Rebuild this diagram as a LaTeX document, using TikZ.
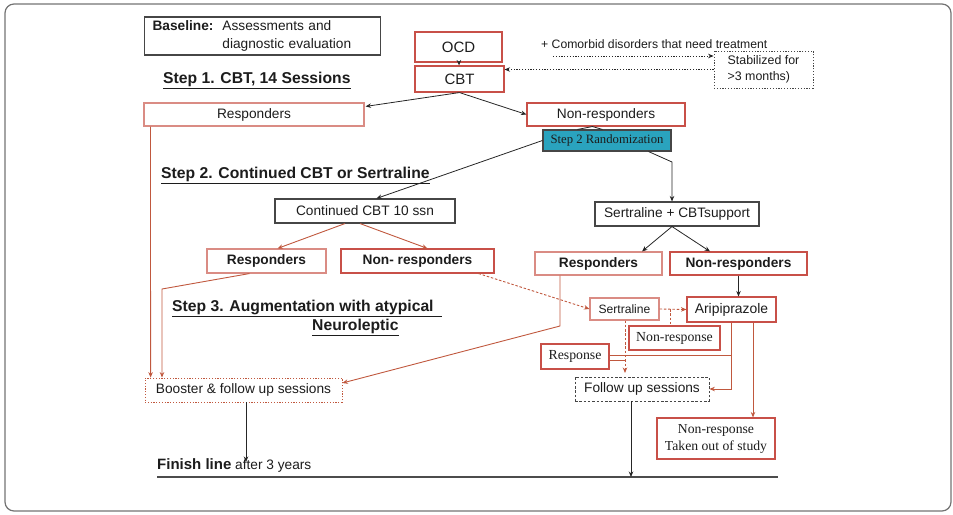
\documentclass[tikz,border=0pt]{standalone}
\usepackage{fontspec}
\setmainfont{Liberation Sans}
\newfontfamily\tms{Liberation Serif}
\usetikzlibrary{arrows.meta,calc}
\definecolor{rbox}{RGB}{200,80,72}
\definecolor{lrbox}{RGB}{218,140,132}
\definecolor{rarr}{RGB}{192,88,62}
\definecolor{gbox}{RGB}{70,70,70}
\definecolor{tealbox}{RGB}{42,163,190}
\definecolor{txt}{RGB}{28,28,28}
\begin{document}
\begin{tikzpicture}[x=1pt,y=-1pt,
  every node/.style={text=txt, font=\fontsize{13.7}{16}\selectfont},
  bx/.style 2 args={minimum width=#1, minimum height=#2, inner sep=0pt, line width=1.1pt},
  rb/.style={draw=rbox},
  lb/.style={draw=lrbox},
  gb/.style={draw=gbox},
  lbl/.style={anchor=west, inner sep=0pt, font=\fontsize{15.7}{18}\selectfont\bfseries},
  tip/.style={-{Stealth[length=5.5pt,width=4.5pt]}},
  blk/.style={tip, draw=black!85, line width=0.8pt},
  blkl/.style={draw=black!85, line width=0.8pt},
  rarrow/.style={tip, draw=rarr, line width=0.9pt},
  rline/.style={draw=rarr, line width=0.9pt},
  dsh/.style={dash pattern=on 2.5pt off 1.8pt},
  dott/.style={dash pattern=on 1.2pt off 1.6pt},
  thinb/.style={line width=0.8pt}
]
\useasboundingbox (0,0) rectangle (953,514);
\draw[line width=1.2pt, draw=black!55, rounded corners=9pt] (5,4) rectangle (951,511);

% ---------- nodes ----------
\node[anchor=west, gb, line width=1.1pt, inner xsep=8pt, inner ysep=0pt, text width=220pt, minimum height=38pt, align=left, font=\fontsize{13.7}{18}\selectfont] (base) at (144,36)
  {\textbf{Baseline:}\hspace{9pt}Assessments and\\\phantom{\textbf{Baseline:}}\hspace{9pt}diagnostic evaluation};
\node[bx={87pt}{30pt}, rb, font=\fontsize{15}{18}\selectfont] (ocd) at (458.5,47) {OCD};
\node[bx={89pt}{26pt}, rb, font=\fontsize{15}{18}\selectfont] (cbt) at (459.5,79) {CBT};
\node[anchor=west, inner sep=0pt, font=\fontsize{12.2}{14}\selectfont] (comorb) at (541,44) {+ Comorbid disorders that need treatment};
\node[bx={99pt}{37pt}, thinb, draw=gbox, dott, align=left, font=\fontsize{12.4}{15.5}\selectfont] (stab) at (763.5,69.5) {Stabilized for\\>3 months)};
\node[lbl] (step1) at (163,80) {\underline{Step 1. CBT, 14 Sessions}};

\node[bx={220pt}{23pt}, lb] (resp1) at (254,114.5) {Responders};
\node[bx={158pt}{23pt}, rb] (nonresp1) at (606,114.5) {Non-responders};
\node[bx={128pt}{21pt}, draw=gbox, fill=tealbox, font=\fontsize{12.7}{15}\selectfont\tms] (rand) at (607,140.5) {Step 2 Randomization};

\node[lbl] (step2) at (161,175) {\underline{Step 2. Continued CBT or Sertraline}};
\node[bx={180pt}{24pt}, gb] (ccbt) at (365,211) {Continued CBT 10 ssn};
\node[bx={164pt}{24pt}, gb] (sert) at (677,214) {Sertraline + CBTsupport};

\node[bx={119pt}{24pt}, lb, font=\fontsize{13.7}{16}\selectfont\bfseries] (resp2L) at (266.5,261) {Responders};
\node[bx={153pt}{24pt}, rb, font=\fontsize{13.7}{16}\selectfont\bfseries] (nonresp2L) at (417.5,261) {Non- responders};
\node[bx={127pt}{23pt}, lb, font=\fontsize{13.7}{16}\selectfont\bfseries] (resp2R) at (598.5,263.5) {Responders};
\node[bx={137pt}{23pt}, rb, font=\fontsize{13.7}{16}\selectfont\bfseries] (nonresp2R) at (738.5,263.5) {Non-responders};

\node[lbl] (step3a) at (172,308) {\underline{Step 3. Augmentation with atypical\ \ }};
\node[lbl] (step3b) at (312,327) {\underline{Neuroleptic}};

\node[bx={69pt}{22pt}, lb, font=\fontsize{12.1}{14}\selectfont] (sertS) at (624.5,309) {Sertraline};
\node[bx={89pt}{25pt}, rb, font=\fontsize{13.9}{16}\selectfont] (arip) at (731.5,309.5) {Aripiprazole};
\node[bx={91pt}{24pt}, rb, font=\fontsize{13.8}{16}\selectfont\tms] (nonresponse) at (674.5,338) {Non-response};
\node[bx={68pt}{25pt}, rb, font=\fontsize{13.8}{16}\selectfont\tms] (response) at (575,356.5) {Response};
\node[bx={134pt}{24pt}, thinb, draw=gbox, dsh] (follow) at (642,389) {Follow up sessions};
\node[bx={197pt}{24pt}, thinb, draw=rarr, dott] (booster) at (243.5,390) {Booster \& follow up sessions};
\node[bx={118pt}{41pt}, rb, align=center, font=\fontsize{13.7}{17}\selectfont\tms] (takenout) at (716,438.5) {Non-response\\Taken out of study};

\node[anchor=west, inner sep=0pt] (finish) at (157,465) {{\fontsize{15}{18}\selectfont\bfseries Finish line} after 3 years};
\coordinate (fl1) at (157,477);
\coordinate (fl2) at (778,477);
\draw[line width=1.3pt, draw=black!70] (fl1) -- (fl2);

% ---------- connectors ----------
\draw[blk] (ocd) -- (cbt);
\coordinate (c1) at (553,56);
\draw[blk, dott] (c1) -- (c1 -| stab.west);
\draw[blk, dott] (stab.west) -- (stab.west -| cbt.east);
\draw[blk] (cbt.south) -- ($(resp1.north east)+(1,4)$);
\draw[blk] (cbt.south) -- (nonresp1.west);
\draw[blkl] ($(rand.north west)+(35,0)$) -- ($(nonresp1.south west)+(66,0)$) -- ($(rand.north west)+(60,0)$);
\draw[blk] (rand.west) -- ($(ccbt.north west)+(102,0)$);
\coordinate (k) at (672,162);
\draw[blk] ($(rand.south east)+(-23,0)$) -- (k) -- (k |- sert.north);

\draw[rarrow] ($(ccbt.south)+(-20,0)$) -- ($(resp2L.north)+(11,0)$);
\draw[rarrow] ($(ccbt.south)+(-5,0)$) -- ($(nonresp2L.north)+(10,0)$);
\draw[blk] ($(sert.south)+(-5,0)$) -- ($(resp2R.north)+(43.5,0)$);
\draw[blk] ($(sert.south)+(-5,0)$) -- ($(nonresp2R.north)+(-28.5,0)$);
\draw[blk] (nonresp2R.south) -- (nonresp2R.south |- arip.north);

\draw[rarrow] ($(resp1.south west)+(7,0)$) -- ($(booster.north west)+(6,0)$);
\coordinate (k2) at (162,289);
\draw[rarrow] ($(resp2L.south west)+(43,0)$) -- (k2) -- (k2 |- booster.north);
\coordinate (k3) at (560,326);
\draw[rarrow] (k3 |- resp2R.south) -- (k3) -- ($(booster.east)+(0,-7)$);

\draw[rarrow, dsh] ($(nonresp2L.south east)+(-16,0)$) -- (sertS.west);
\draw[rarrow, dsh] (sertS.east) -- (arip.west);
\coordinate (k4) at (670,309);
\draw[rline, dsh] (k4) -- (k4 |- nonresponse.north);
\coordinate (k5) at (625,373);
\draw[rarrow, dsh] (k5 |- sertS.south) -- (k5);
\coordinate (k6) at (731,355);
\draw[rline] (k6 -| response.east) -- (k6);
\draw[rline] ($(response.east)+(0,3.5)$) -- ($(response.east)+(16,3.5)$);
\draw[rarrow] (k6 |- arip.south) |- (follow.east);
\coordinate (k7) at (753,300);
\draw[rarrow] (k7 |- arip.south) -- (k7 |- takenout.north);

\coordinate (k8) at (631,400);
\draw[blk] (k8 |- follow.south) -- (k8 |- fl1);
\coordinate (k9) at (246,462);
\draw[blk] (k9 |- booster.south) -- (k9);
\end{tikzpicture}
\end{document}
